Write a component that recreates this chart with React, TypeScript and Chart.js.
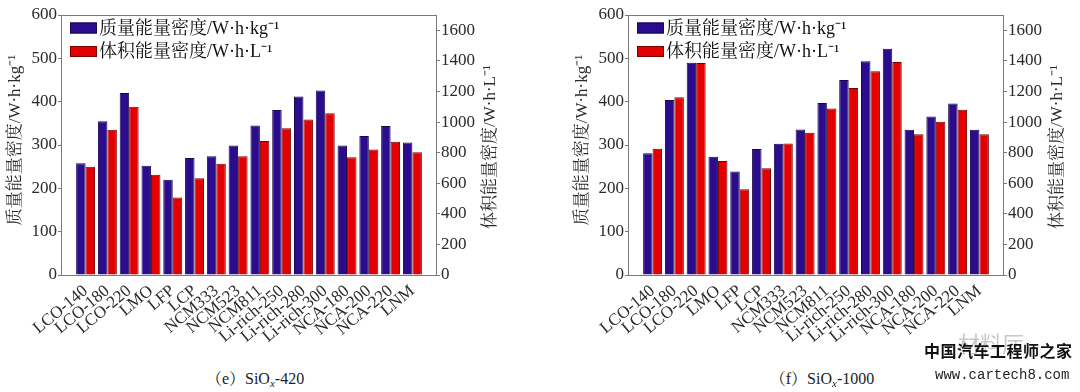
import React, { useEffect, useRef } from 'react';
import { Chart, registerables } from 'chart.js';

Chart.register(...registerables);

// ---------- data ----------
const categories = [
  'LCO-140', 'LCO-180', 'LCO-220', 'LMO', 'LFP', 'LCP', 'NCM333', 'NCM523',
  'NCM811', 'Li-rich-250', 'Li-rich-280', 'Li-rich-300', 'NCA-180', 'NCA-200', 'NCA-220', 'LNM',
];

// (e) SiOx-420
const massSiOx420 = [258, 355, 420, 252, 220, 270, 274, 299, 345, 381, 412, 426, 299, 321, 344, 306];
const volSiOx420 = [707, 950, 1100, 655, 507, 633, 728, 777, 876, 959, 1017, 1057, 770, 820, 872, 803];

// (f) SiOx-1000
const massSiOx1000 = [281, 404, 490, 273, 239, 291, 303, 336, 397, 450, 493, 522, 335, 366, 396, 335];
const volSiOx1000 = [826, 1163, 1386, 746, 561, 698, 859, 930, 1089, 1223, 1332, 1393, 920, 1002, 1080, 920];

const massTicks = [0, 100, 200, 300, 400, 500, 600];
const volTicks = [0, 200, 400, 600, 800, 1000, 1200, 1400, 1600];
const massAxisMax = 600;
const volAxisMax = 1700;

const massLabel = '质量能量密度/W·h·kg⁻¹';
const volLabel = '体积能量密度/W·h·L⁻¹';

// ---------- styles ----------
const BLUE = '#2b0c8c';
const BLUE_EDGE = '#1a0750';
const RED = '#e30000';
const RED_EDGE = '#7a0000';
const SERIF = '"Liberation Serif", "Times New Roman", "Noto Serif CJK SC", "Noto Sans CJK SC", serif';
const TEXT = '#2a2a2a';

const CANVAS_W = 510;
const CANVAS_H = 360;

const framePlugin = {
  id: 'frameAndTitles',
  afterDraw(chart: any) {
    const { ctx, chartArea } = chart;
    const { left, right, top, bottom } = chartArea;
    ctx.save();
    // frame
    ctx.strokeStyle = '#7a7a7a';
    ctx.lineWidth = 1;
    ctx.strokeRect(Math.round(left) - 0.5, Math.round(top) + 0.5, Math.round(right - left) + 1, Math.round(bottom - top));

    // axis titles (both read bottom-to-top)
    ctx.fillStyle = TEXT;
    ctx.font = `17px ${SERIF}`;
    ctx.textAlign = 'center';
    ctx.textBaseline = 'middle';
    ctx.save();
    ctx.translate(16, 140);
    ctx.rotate(-Math.PI / 2);
    ctx.fillText(massLabel, 0, 0);
    ctx.restore();
    ctx.save();
    ctx.translate(491, 147);
    ctx.rotate(-Math.PI / 2);
    ctx.fillText(volLabel, 0, 0);
    ctx.restore();

    // legend inside plot, top-left
    const items = [
      { label: massLabel, fill: BLUE, edge: BLUE_EDGE, y: 28 },
      { label: volLabel, fill: RED, edge: RED_EDGE, y: 51.5 },
    ];
    ctx.font = `18px ${SERIF}`;
    ctx.textAlign = 'left';
    ctx.textBaseline = 'middle';
    items.forEach((it) => {
      const bx = left + 8;
      ctx.fillStyle = it.fill;
      ctx.fillRect(bx, it.y - 5.5, 27, 11);
      ctx.strokeStyle = it.edge;
      ctx.lineWidth = 1;
      ctx.strokeRect(bx + 0.5, it.y - 5, 26, 10);
      ctx.fillStyle = '#111';
      ctx.fillText(it.label, bx + 29, it.y + 1);
    });
    ctx.restore();
  },
};

function EnergyChart({ mass, vol }: { mass: number[]; vol: number[] }) {
  const ref = useRef<HTMLCanvasElement | null>(null);

  useEffect(() => {
    if (!ref.current) return;
    const pad = 0.583; // extra space (in category units) between frame and first/last group
    const chart = new Chart(ref.current, {
      type: 'bar',
      data: {
        datasets: [
          {
            label: massLabel,
            data: mass.map((v, i) => ({ x: i, y: v })),
            yAxisID: 'y',
            backgroundColor: BLUE,
            borderColor: BLUE_EDGE,
            borderWidth: 1,
            categoryPercentage: 0.87,
            barPercentage: 1.0,
          },
          {
            label: volLabel,
            data: vol.map((v, i) => ({ x: i, y: v })),
            yAxisID: 'y1',
            backgroundColor: RED,
            borderColor: RED_EDGE,
            borderWidth: 1,
            categoryPercentage: 0.87,
            barPercentage: 1.0,
          },
        ],
      } as any,
      options: {
        responsive: false,
        animation: false,
        devicePixelRatio: 1,
        layout: { padding: { top: 15, left: 0, right: 0, bottom: 0 } },
        plugins: { legend: { display: false }, tooltip: { enabled: false } },
        scales: {
          x: {
            type: 'linear',
            min: -0.5 - pad,
            max: categories.length - 0.5 + pad,
            offset: false,
            grid: { display: false, drawTicks: false },
            border: { display: false },
            afterBuildTicks: (s: any) => {
              s.ticks = categories.map((_, i) => ({ value: i }));
            },
            afterFit: (s: any) => {
              s.height = CANVAS_H - 275;
              s.paddingLeft = 0;
              s.paddingRight = 0;
            },
            ticks: {
              autoSkip: false,
              minRotation: 40,
              maxRotation: 40,
              padding: 6,
              color: TEXT,
              font: { family: SERIF, size: 17 },
              callback: (v: any) => categories[v as number] ?? '',
            },
          },
          y: {
            position: 'left',
            min: 0,
            max: massAxisMax,
            grid: { drawOnChartArea: false, drawTicks: true, tickLength: 4, color: '#7a7a7a' },
            border: { display: false },
            ticks: { autoSkip: false, padding: 1, color: TEXT, font: { family: SERIF, size: 17 }, callback: (v: any) => String(v) },
            afterBuildTicks: (s: any) => {
              s.ticks = massTicks.map((value) => ({ value }));
            },
            afterFit: (s: any) => {
              s.width = 62;
              s.paddingTop = 0;
              s.paddingBottom = 0;
            },
          },
          y1: {
            position: 'right',
            min: 0,
            max: volAxisMax,
            grid: { drawOnChartArea: false, drawTicks: true, tickLength: 4, color: '#7a7a7a' },
            border: { display: false },
            ticks: { autoSkip: false, padding: 1, color: TEXT, font: { family: SERIF, size: 17 }, callback: (v: any) => String(v) },
            afterBuildTicks: (s: any) => {
              s.ticks = volTicks.map((value) => ({ value }));
            },
            afterFit: (s: any) => {
              s.width = CANVAS_W - 436;
              s.paddingTop = 0;
              s.paddingBottom = 0;
            },
          },
        },
      } as any,
      plugins: [framePlugin],
    });
    return () => chart.destroy();
  }, [mass, vol]);

  return <canvas ref={ref} width={CANVAS_W} height={CANVAS_H} style={{ display: 'block', width: CANVAS_W, height: CANVAS_H }} />;
}

function Caption({ letter, value }: { letter: string; value: string }) {
  return (
    <div
      style={{
        position: 'absolute',
        left: 0,
        width: CANVAS_W,
        top: 369,
        textAlign: 'center',
        fontFamily: SERIF,
        fontSize: 16,
        color: '#222',
        lineHeight: '20px',
      }}
    >
      （{letter}）SiO
      <sub style={{ fontSize: 11, fontStyle: 'italic', verticalAlign: 'baseline', position: 'relative', top: 3 }}>x</sub>-{value}
    </div>
  );
}

export default function App() {
  return (
    <div style={{ position: 'absolute', left: 0, top: 0, width: 1080, height: 392, background: '#fff', overflow: 'hidden' }}>
      <div style={{ position: 'absolute', left: 0, top: 0, width: CANVAS_W, height: 392 }}>
        <EnergyChart mass={massSiOx420} vol={volSiOx420} />
        <Caption letter="e" value="420" />
      </div>
      <div style={{ position: 'absolute', left: 567, top: 0, width: CANVAS_W, height: 392 }}>
        <EnergyChart mass={massSiOx1000} vol={volSiOx1000} />
        <Caption letter="f" value="1000" />
      </div>
      <div style={{ position: 'absolute', left: 958, top: 326, fontFamily: '"Noto Sans CJK SC", sans-serif', fontSize: 22, color: '#c8c8c8' }}>
        材料厅
      </div>
      <div style={{ position: 'absolute', left: 924, top: 338, fontFamily: '"Noto Sans CJK SC", sans-serif', fontSize: 16, fontWeight: 700, color: '#111', letterSpacing: 0.5 }}>
        中国汽车工程师之家
      </div>
      <div style={{ position: 'absolute', left: 935, top: 367, fontFamily: '"Liberation Mono", "DejaVu Sans Mono", monospace', fontSize: 14, color: '#222' }}>
        www.cartech8.com
      </div>
    </div>
  );
}
